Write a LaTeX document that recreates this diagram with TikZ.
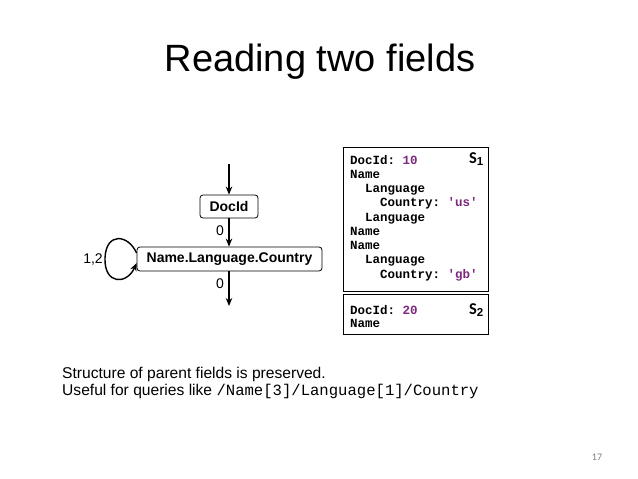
\documentclass[tikz,border=0pt]{standalone}
\usepackage{fontspec}
\setmainfont{Liberation Sans}
\setmonofont{Liberation Mono}
\newfontfamily\calib{Carlito}
\usetikzlibrary{arrows.meta}
\definecolor{numpurple}{RGB}{125,40,125}
\tikzset{
  fieldbox/.style={draw=black, line width=0.8pt, rounded corners=3pt, font=\bfseries\fontsize{14}{16}\selectfont, inner sep=0pt},
  flow/.style={line width=1.4pt, -{Stealth[length=8pt,width=6.5pt]}},
  lbl/.style={font=\fontsize{14}{16}\selectfont, inner sep=0pt},
  codeln/.style={anchor=base west, inner sep=0pt, font=\ttfamily\bfseries\fontsize{12.5}{14}\selectfont},
  recbox/.style={draw=black, line width=1pt},
  slabel/.style={anchor=base east, inner sep=0pt, font=\calib\bfseries\fontsize{16.5}{20}\selectfont},
  caption/.style={anchor=base west, inner sep=0pt, font=\fontsize{15.6}{18}\selectfont},
}
\begin{document}
\begin{tikzpicture}[x=1pt,y=-1pt]
\useasboundingbox (0,0) rectangle (638,479);
\fill[white] (0,0) rectangle (638,479);
% title
\node[anchor=base, inner sep=0pt, font=\fontsize{38}{42}\selectfont] (title) at (320,71) {Reading two fields};
% nodes
\node[fieldbox, minimum width=58pt, minimum height=23pt] (docid) at (229,206.5) {DocId};
\node[fieldbox, minimum width=185pt, minimum height=24pt] (nlc) at (229.5,259) {Name.Language.Country};
\coordinate (top) at (229,164);
\coordinate (bot) at (229.5,306);
\draw[flow] (top) -- (docid.north);
\draw[flow] (docid.south) -- (nlc.north -| docid.south);
\draw[flow] (nlc.south -| docid.south) -- (bot -| docid.south);
\node[lbl] (z1) at (220,231) {0};
\node[lbl] (z2) at (220,284) {0};
% loop
\draw[line width=1.4pt, -{Stealth[length=8pt,width=6.5pt]}] ([yshift=6pt]nlc.west) .. controls (128,234) and (106,232) .. (105,258) .. controls (104,285) and (127,285) .. ([yshift=-4pt]nlc.west);
\node[lbl] (loopl) at (93,260) {1,2};
% records
\draw[recbox] (343,147) rectangle (488,291);
\draw[recbox] (343,294) rectangle (488,334);
\node[codeln] (l1) at (350,164) {DocId: \textcolor{numpurple}{10}};
\node[codeln] (l2) at (350,178.25) {Name};
\node[codeln] (l3) at (350,192.5) {\ \ Language};
\node[codeln] (l4) at (350,206.75) {\ \ \ \ Country: \textcolor{numpurple}{'us'}};
\node[codeln] (l5) at (350,221) {\ \ Language};
\node[codeln] (l6) at (350,235.25) {Name};
\node[codeln] (l7) at (350,249.5) {Name};
\node[codeln] (l8) at (350,263.75) {\ \ Language};
\node[codeln] (l9) at (350,278) {\ \ \ \ Country: \textcolor{numpurple}{'gb'}};
\node[codeln] (m1) at (350,314) {DocId: \textcolor{numpurple}{20}};
\node[codeln] (m2) at (350,327) {Name};
\node[slabel] (s1) at (484,163) {S$_{\mathbf 1}$};
\node[slabel] (s2) at (484,314) {S$_{\mathbf 2}$};
% caption
\node[caption] (c1) at (62,378.5) {Structure of parent fields is preserved.};
\node[caption] (c2) at (62,395) {Useful for queries like \ttfamily /Name[3]/Language[1]/Country};
% page number
\node[inner sep=0pt, text=gray, font=\calib\fontsize{10}{12}\selectfont] (pg) at (597,457) {17};
\end{tikzpicture}
\end{document}
